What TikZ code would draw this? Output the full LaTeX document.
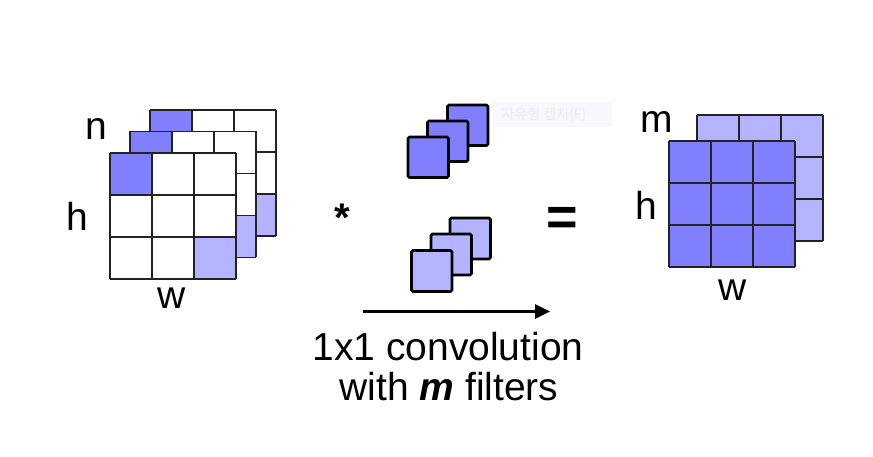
\documentclass[tikz,border=0pt]{standalone}
\usepackage{fontspec}
\setmainfont{Liberation Sans}
\newfontfamily\krfont{Noto Sans CJK KR}
\usetikzlibrary{arrows.meta}
\definecolor{darkblue}{HTML}{8080FF}
\definecolor{lightblue}{HTML}{B3B3FF}
\definecolor{gridcol}{HTML}{222222}
\definecolor{capbg}{HTML}{F7F8FC}
\definecolor{captxt}{HTML}{ECEDF4}
\tikzset{
  gridline/.style={draw=gridcol, line width=1.5pt},
  filterbox/.style={draw=black, line width=2.6pt, rounded corners=1.5pt},
  lbl/.style={inner sep=0pt, font=\fontsize{39}{44}\selectfont},
  captext/.style={inner sep=0pt, font=\fontsize{39}{44}\selectfont, anchor=base},
}
\newcommand{\gridlayer}[5]{% x, y, fill top-left, fill bottom-right, fill all
  \begin{scope}[shift={(#1,#2)}]
    \fill[#5] (0,0) rectangle (126,126);
    \fill[#3] (0,0) rectangle (42,42);
    \fill[#4] (84,84) rectangle (126,126);
    \foreach \k in {0,42,84,126} {
      \draw[gridline] (\k,0) -- (\k,126);
      \draw[gridline] (0,\k) -- (126,\k);
    }
  \end{scope}}
\begin{document}
\begin{tikzpicture}[x=1pt,y=-1pt]
\useasboundingbox (0,0) rectangle (873,457);
% faint capture artifact
\fill[capbg] (492,102) rectangle (612,127);
\node[inner sep=0pt, text=captxt, font=\krfont\fontsize{14}{16}\selectfont] (capt) at (544,115) {자유형 캡처(F)};

% input stack
\gridlayer{150}{110}{darkblue}{lightblue}{white}
\gridlayer{130}{131.5}{darkblue}{lightblue}{white}
\gridlayer{110}{153}{darkblue}{lightblue}{white}
\node[lbl] (ln) at (96.5,129) {n};
\node[lbl] (lh) at (77,216) {h};
\node[lbl] (lw) at (172,298) {w};

% star
\node[inner sep=0pt, font=\bfseries\fontsize{40}{44}\selectfont] (star) at (342,218) {*};

% filters (dark)
\draw[filterbox, fill=darkblue] (447.5,105) rectangle ++(40.5,40.5);
\draw[filterbox, fill=darkblue] (427.5,121) rectangle ++(40.5,40.5);
\draw[filterbox, fill=darkblue] (408,137) rectangle ++(40.5,40.5);
% filters (light)
\draw[filterbox, fill=lightblue] (450,218) rectangle ++(40.5,41);
\draw[filterbox, fill=lightblue] (431,234) rectangle ++(40.5,41);
\draw[filterbox, fill=lightblue] (411.5,250.5) rectangle ++(40.5,41);

% equals
\node[inner sep=0pt, font=\bfseries\fontsize{54}{60}\selectfont] (eq) at (562,221) {=};

% output
\gridlayer{697}{115}{lightblue}{lightblue}{lightblue}
\gridlayer{669}{141}{darkblue}{darkblue}{darkblue}
\node[lbl] (rm) at (657,122) {m};
\node[lbl] (rh) at (646.5,205) {h};
\node[lbl] (rw) at (733,290) {w};

% arrow
\coordinate (a0) at (363,311.5);
\coordinate (a1) at (550,311.5);
\draw[line width=3pt, -{Triangle[length=15pt,width=14pt]}] (a0) -- (a1);

\node[captext] (t1) at (448,360) {1x1 convolution};
\node[captext] (t2) at (449,400) {with \textbf{\textit{m}} filters};
\end{tikzpicture}
\end{document}
